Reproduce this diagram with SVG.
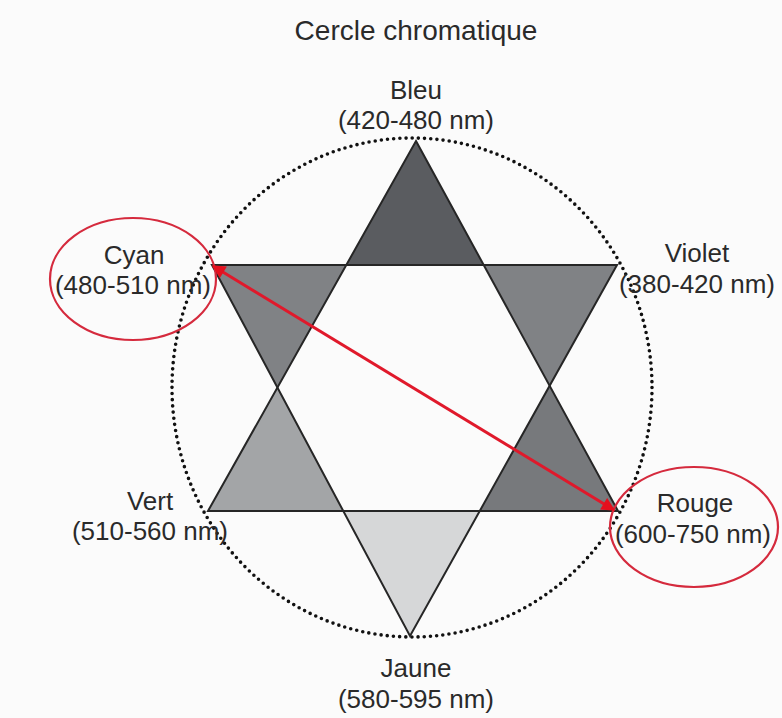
<svg xmlns="http://www.w3.org/2000/svg" width="782" height="718" viewBox="0 0 782 718">
<style>
text{font-family:"Liberation Sans",Arial,sans-serif;fill:#2a2a2a;text-anchor:middle}
.t{font-size:28px}
.l{font-size:26px}
.tri{stroke:#262626;stroke-width:2;stroke-linejoin:miter}
.red{fill:none;stroke:#d52a3d;stroke-width:2.2}
</style>
<defs>
<marker id="ah" viewBox="0 0 10 10" refX="9" refY="5" markerWidth="5" markerHeight="4.5" orient="auto-start-reverse">
<path d="M0,0 L10,5 L0,10 z" fill="#e5101e"/>
</marker>
</defs>
<rect width="782" height="718" fill="#fbfbfb"/>
<text class="t" x="416" y="40">Cercle chromatique</text>
<g id="circle">
<ellipse cx="412" cy="387.5" rx="240" ry="249.5" fill="none" stroke="#111" stroke-width="3.6" stroke-linecap="round" stroke-dasharray="0 6.2"/>
</g>
<g id="star">
<polygon points="416,141 346.3,265 483.7,265" fill="#5a5c60"/>
<polygon points="212,265 346.3,265 277.4,387.5" fill="#808285"/>
<polygon points="483.7,265 617,265 549.6,385.8" fill="#808285"/>
<polygon points="277.4,387.5 208,511 343.3,511" fill="#a3a5a7"/>
<polygon points="549.6,385.8 479.7,511 618,511" fill="#77797c"/>
<polygon points="343.3,511 479.7,511 410,636" fill="#d6d7d8"/>
<polygon class="tri" points="416,141 618,511 208,511" fill="none"/>
<polygon class="tri" points="212,265 617,265 410,636" fill="none"/>
</g>
<g id="bleu"><text class="l" x="416" y="99">Bleu</text><text class="l" x="416" y="129">(420-480 nm)</text></g>
<g id="cyan"><ellipse class="red" cx="133" cy="279" rx="83" ry="61"/><text class="l" x="134" y="264">Cyan</text><text class="l" x="133" y="294">(480-510 nm)</text></g>
<g id="violet"><text class="l" x="697" y="262">Violet</text><text class="l" x="697" y="293">(380-420 nm)</text></g>
<g id="vert"><text class="l" x="150" y="510">Vert</text><text class="l" x="150" y="540">(510-560 nm)</text></g>
<g id="rouge"><ellipse class="red" cx="694" cy="527" rx="84" ry="60"/><text class="l" x="695" y="512">Rouge</text><text class="l" x="693" y="543">(600-750 nm)</text></g>
<g id="jaune"><text class="l" x="416" y="677">Jaune</text><text class="l" x="416" y="708">(580-595 nm)</text></g>
<g id="connectors">
<line x1="213" y1="266" x2="614" y2="510" stroke="#e0192b" stroke-width="3" marker-start="url(#ah)" marker-end="url(#ah)"/>
</g>
</svg>
